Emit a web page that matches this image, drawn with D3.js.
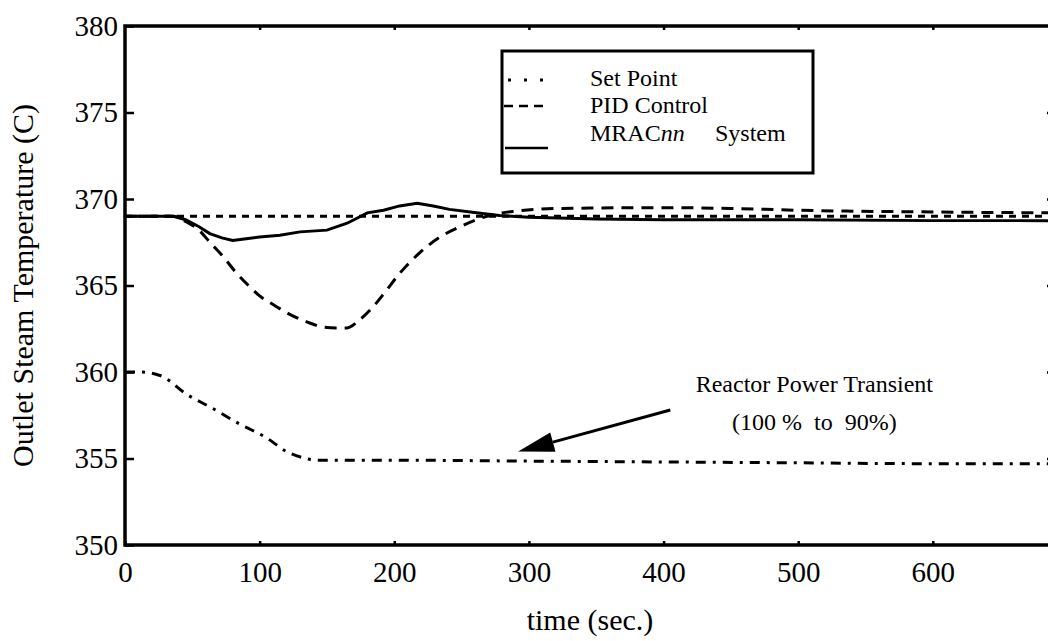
<!DOCTYPE html>
<html>
<head>
<meta charset="utf-8">
<script src="https://cdn.jsdelivr.net/npm/d3@7/dist/d3.min.js"></script>
<style>
  html, body { margin: 0; padding: 0; background: #fff; }
  svg { display: block; }
</style>
</head>
<body>
<svg id="chart" width="1048" height="641"></svg>
<script>
// Outlet steam temperature response to a 100% -> 90% reactor power transient

const xTicks = [0, 100, 200, 300, 400, 500, 600];
const yTicks = [350, 355, 360, 365, 370, 375, 380];

// Set point (constant)
const setT = [0, 690];
const setV = [369, 369];

// PID control response
const pidT = [0, 36, 45, 55, 63, 72, 83, 93, 100, 110, 122, 135, 147, 157, 165, 174, 184, 193, 204, 219, 234, 249, 261, 271, 290, 320, 400, 450, 500, 600, 690];
const pidV = [369, 369, 368.7, 368.2, 367.5, 366.75, 365.7, 364.9, 364.4, 363.9, 363.35, 362.9, 362.6, 362.55, 362.55, 363.0, 363.75, 364.6, 365.7, 366.9, 367.8, 368.4, 368.8, 369.05, 369.3, 369.45, 369.5, 369.45, 369.35, 369.25, 369.2];

// MRACnn system response
const mracT = [0, 36, 45, 55, 63, 72, 80, 90, 100, 115, 130, 150, 165, 180, 192, 204, 217, 229, 241, 261, 278, 300, 350, 400, 500, 600, 690];
const mracV = [369, 369, 368.8, 368.4, 368.0, 367.75, 367.6, 367.7, 367.8, 367.9, 368.1, 368.2, 368.6, 369.2, 369.35, 369.6, 369.75, 369.6, 369.4, 369.2, 369.05, 368.95, 368.85, 368.8, 368.8, 368.75, 368.75];

// Reactor power transient (drawn on the temperature scale)
const powT = [0, 10, 26, 46, 65, 85, 105, 120, 132, 142, 160, 200, 300, 400, 500, 600, 690];
const powV = [360, 360, 359.8, 358.7, 357.9, 357.0, 356.2, 355.4, 355.05, 354.9, 354.9, 354.9, 354.85, 354.8, 354.75, 354.7, 354.7];

const legendLabels = ["Set Point", "PID Control", "MRAC", "System"];

const FONT = "'Liberation Serif', 'Times New Roman', Times, serif";
const svg = d3.select("#chart");
const padL = 125, padR = 1054, padT = 26, padB = 545;

const x = d3.scaleLinear().domain([0, 690]).range([padL, padR]);
const y = d3.scaleLinear().domain([350, 380]).range([padB, padT]);

const zip = (ts, vs) => ts.map((t, i) => ({ t, v: vs[i] }));

// Axes (inward ticks)
const axL = d3.axisLeft(y).tickValues(yTicks).tickSizeInner(-9).tickSizeOuter(0).tickPadding(7);
const axB = d3.axisBottom(x).tickValues(xTicks).tickSizeInner(-4).tickSizeOuter(0).tickPadding(16);
const axT = d3.axisTop(x).tickValues(xTicks.slice(1)).tickSizeInner(-4).tickSizeOuter(0).tickFormat("");
const axR = d3.axisRight(y).tickValues(yTicks.slice(1, -1)).tickSizeInner(-7).tickSizeOuter(0).tickFormat("");

function styleAxis(g) {
  g.attr("font-family", FONT).attr("font-size", 29);
  g.select(".domain").remove();
  g.selectAll(".tick line").attr("stroke", "#000").attr("stroke-width", 2.5);
  g.selectAll(".tick text").attr("font-family", FONT).attr("font-size", 29).attr("fill", "#000");
}

svg.append("g").attr("transform", `translate(${padL},0)`).call(axL).call(styleAxis);
svg.append("g").attr("transform", `translate(0,${padB})`).call(axB).call(styleAxis);
svg.append("g").attr("transform", `translate(0,${padT})`).call(axT).call(styleAxis);
svg.append("g").attr("transform", `translate(${padR},0)`).call(axR).call(styleAxis);

// Plot frame
svg.append("rect")
  .attr("x", padL).attr("y", padT)
  .attr("width", padR - padL).attr("height", padB - padT)
  .attr("fill", "none").attr("stroke", "#000").attr("stroke-width", 3.5);

// Series
const lineLin = d3.line().x(d => x(d.t)).y(d => y(d.v));
const lineSm = d3.line().x(d => x(d.t)).y(d => y(d.v)).curve(d3.curveMonotoneX);

const plot = svg.append("g");
plot.append("path").datum(zip(setT, setV)).attr("d", lineLin)
  .attr("fill", "none").attr("stroke", "#000").attr("stroke-width", 3).attr("stroke-dasharray", "7,6");
plot.append("path").datum(zip(powT, powV)).attr("d", lineSm)
  .attr("fill", "none").attr("stroke", "#000").attr("stroke-width", 3).attr("stroke-dasharray", "10,7,3,7");
plot.append("path").datum(zip(pidT, pidV)).attr("d", lineSm)
  .attr("fill", "none").attr("stroke", "#000").attr("stroke-width", 3).attr("stroke-dasharray", "12,8");
plot.append("path").datum(zip(mracT, mracV)).attr("d", lineLin)
  .attr("fill", "none").attr("stroke", "#000").attr("stroke-width", 3);

// Annotation arrow pointing at the power transient
const tail = { t: 405, v: 357.8 }, tip = { t: 292, v: 355.4 };
const tx = x(tip.t), ty = y(tip.v), sx = x(tail.t), sy = y(tail.v);
const ang = Math.atan2(ty - sy, tx - sx);
const headLen = 36, headHalf = 10;
const bx = tx - headLen * Math.cos(ang), by = ty - headLen * Math.sin(ang);
svg.append("line").attr("x1", sx).attr("y1", sy).attr("x2", bx).attr("y2", by)
  .attr("stroke", "#000").attr("stroke-width", 3);
svg.append("path")
  .attr("d", `M${tx},${ty} L${bx - headHalf * Math.sin(ang)},${by + headHalf * Math.cos(ang)} L${bx + headHalf * Math.sin(ang)},${by - headHalf * Math.cos(ang)} Z`)
  .attr("fill", "#000");

function label(sel, size) {
  return sel.attr("font-family", FONT).attr("font-size", size).attr("fill", "#000");
}

label(svg.append("text"), 24).attr("x", x(512)).attr("y", y(358.85)).attr("text-anchor", "middle")
  .text("Reactor Power Transient");
label(svg.append("text"), 24).attr("x", x(512)).attr("y", y(356.65)).attr("text-anchor", "middle")
  .attr("xml:space", "preserve").style("white-space", "pre").text("(100 %  to  90%)");

// Legend
const lg = svg.append("g");
lg.append("rect").attr("x", 502).attr("y", 51).attr("width", 311).attr("height", 122)
  .attr("fill", "#fff").attr("stroke", "#000").attr("stroke-width", 3);
lg.append("line").attr("x1", 508).attr("x2", 546).attr("y1", 80).attr("y2", 80)
  .attr("stroke", "#000").attr("stroke-width", 3).attr("stroke-dasharray", "3,13");
lg.append("line").attr("x1", 504).attr("x2", 546).attr("y1", 106).attr("y2", 106)
  .attr("stroke", "#000").attr("stroke-width", 2.5).attr("stroke-dasharray", "9,6");
lg.append("line").attr("x1", 505).attr("x2", 548).attr("y1", 148).attr("y2", 148)
  .attr("stroke", "#000").attr("stroke-width", 2.5);
label(lg.append("text"), 24).attr("x", 590).attr("y", 86).text(legendLabels[0]);
label(lg.append("text"), 24).attr("x", 590).attr("y", 113).text(legendLabels[1]);
const t3 = label(lg.append("text"), 24).attr("x", 590).attr("y", 141);
t3.append("tspan").text(legendLabels[2]);
t3.append("tspan").attr("font-style", "italic").text("nn");
label(lg.append("text"), 24).attr("x", 715).attr("y", 141).text(legendLabels[3]);

// Axis titles
label(svg.append("text"), 30).attr("x", 590).attr("y", 630).attr("text-anchor", "middle")
  .text("time (sec.)");
label(svg.append("text"), 30).attr("transform", `translate(33,${(padT + padB) / 2}) rotate(-90)`)
  .attr("text-anchor", "middle").text("Outlet Steam Temperature (C)");
</script>
</body>
</html>
